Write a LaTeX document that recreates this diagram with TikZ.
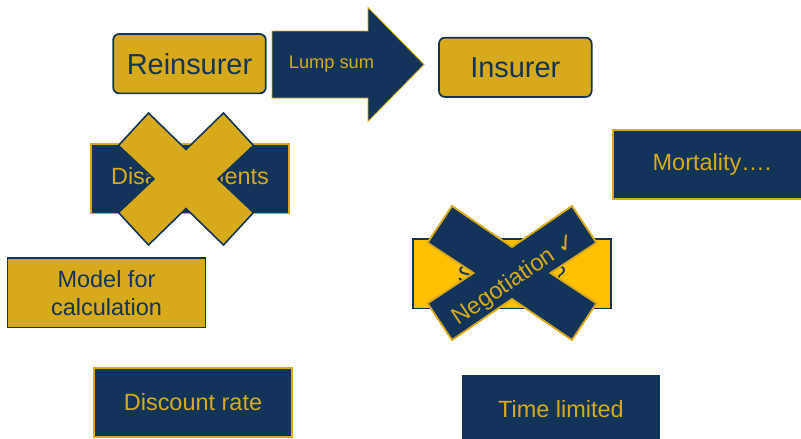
\documentclass[tikz,border=0pt]{standalone}
\usepackage{fontspec}
\setmainfont{Liberation Sans}
\newfontfamily\tickfont{DejaVu Sans}
\definecolor{navy}{HTML}{133459}
\definecolor{gold}{HTML}{D6AA1A}
\definecolor{amber}{HTML}{FFC000}

\begin{document}
\begin{tikzpicture}[x=0.75pt, y=-0.75pt,
  box/.style={minimum width=148.5pt, minimum height=52pt, inner sep=0pt, align=center,
    font=\fontsize{17.6}{20.8}\selectfont},
  navybox/.style={box, fill=navy, draw=gold, line width=1.3pt, text=gold},
  goldbox/.style={box, fill=gold, draw=navy, line width=1.3pt, text=navy},
  party/.style={goldbox, rounded corners=4.5pt, minimum width=114.5pt, minimum height=44.5pt,
    font=\fontsize{21.7}{26}\selectfont}]

  \useasboundingbox (0,0) rectangle (801,439);

  \node[party] (reins) at (189.5,63.7) {Reinsurer};
  \node[party] (ins) at (515.3,67.3) {Insurer};
  \draw[fill=navy, draw=gold, line width=0.6pt] (272,31) -- (368,31) -- (368,7.5) -- (424,64.5)
    -- (368,121.5) -- (368,98) -- (272,98) -- cycle;
  \node[text=gold, font=\fontsize{13.7}{16}\selectfont] (lump) at (331.5,64.5) {Lump sum};

  \node[navybox] (disagree) at (190,178.8) {Disagreements};
  \begin{scope}[shift={(186,179)}]
    \draw[fill=gold, draw=navy, line width=1.2pt]
      (0,-29.5) -- (37.5,-66) -- (67.5,-33.5) -- (32,0) -- (67.5,33.5) -- (37.5,66)
      -- (0,29.5) -- (-37.5,66) -- (-67.5,33.5) -- (-32,0) -- (-67.5,-33.5) -- (-37.5,-66) -- cycle;
  \end{scope}

  \node[goldbox, fill=amber] (standard) at (511.7,273.7) {Standard?};
  \begin{scope}[shift={(512,273)}]
    \draw[fill=navy, draw=gold, line width=1.4pt]
      (0,-26) -- (60,-67) -- (84.5,-30.3) -- (38.5,0) -- (84.5,30.3) -- (60,67)
      -- (0,26) -- (-60,67) -- (-84.5,30.3) -- (-38.5,0) -- (-84.5,-30.3) -- (-60,-67) -- cycle;
  \end{scope}
  \node[text=gold, rotate=34, font=\fontsize{17.6}{20.8}\selectfont] (nego) at (515,280)
    {Negotiation {\tickfont ✓}};

  \node[navybox] (mort) at (712,164.5) {Mortality….};
  \node[goldbox] (model) at (106.5,292.8) {Model for\\calculation};
  \node[navybox] (discount) at (193,402.3) {Discount rate};
  \node[navybox, draw=none] (time) at (561,409.3) {Time limited};

\end{tikzpicture}
\end{document}
